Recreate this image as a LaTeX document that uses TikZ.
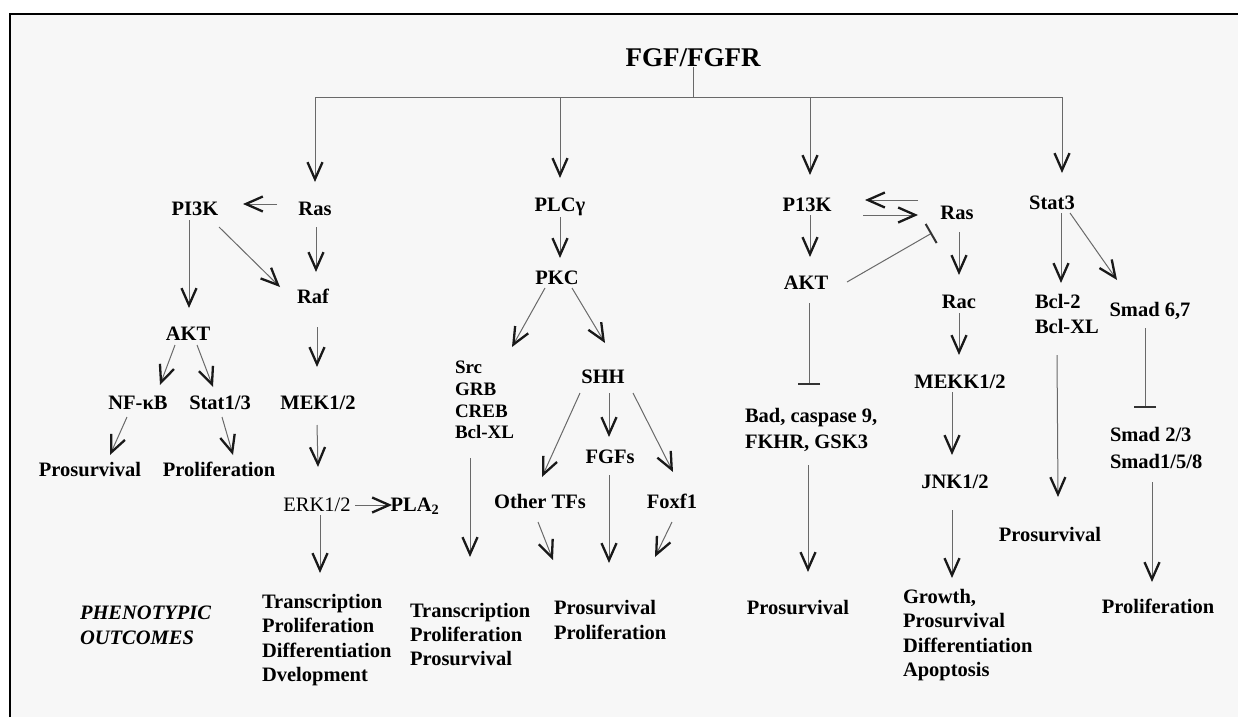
\documentclass[tikz,border=0pt]{standalone}
\usepackage{fontspec}
\setmainfont{Liberation Serif}
\usetikzlibrary{arrows.meta}

\definecolor{paper}{RGB}{247,247,247}
\definecolor{wire}{RGB}{105,105,105}

\begin{document}
\begin{tikzpicture}[x=1pt,y=-1pt]
        \tikzstyle{every node}=[font=\bfseries\fontsize{20.5}{24.5}\selectfont, inner sep=0pt, outer sep=0pt]
        \tikzstyle{lbl}=[text height=13.5pt, text depth=0pt]
        \tikzstyle{blk}=[anchor=west, align=left]
        \tikzstyle{ln}=[draw=wire, line width=1pt]
        \tikzstyle{arr}=[ln, -{Straight Barb[length=17pt,width=15pt,line width=2.3pt,color=black!90]}]
        \tikzstyle{inh}=[ln, -{Bar[width=22pt,line width=2pt,color=black!80]}]
        \useasboundingbox (0,0) rectangle (1238,717);
        \fill[paper] (10,14) rectangle (1238,717);
        \draw[line width=2.8pt] (10,717) -- (10,14) -- (1238,14);
        % receptor and the four branches
        \node[font=\bfseries\fontsize{27}{30}\selectfont] (title) at (693,58) {FGF/FGFR};
        \coordinate (b1) at (315,97);
        \coordinate (b2) at (560,97);
        \coordinate (b3) at (810,97);
        \coordinate (b4) at (1062,97);
        \draw[ln] (b1) -- (b4);
        \draw[ln] (title) -- (title |- b1);
        % Ras branch
        \node[lbl] (pik1) at (195,209) {PI3K};
        \node[lbl] (ras1) at (315,209) {Ras};
        \node[lbl] (raf) at (313,297) {Raf};
        \node[lbl] (akt1) at (188,334) {AKT};
        \node[lbl] (nfkb) at (138,403) {NF-κB};
        \node[lbl] (stat13) at (220,403) {Stat1/3};
        \node[lbl] (mek) at (318,403) {MEK1/2};
        \node[lbl] (prosurv1) at (90,470) {Prosurvival};
        \node[lbl] (prolif1) at (219,470) {Proliferation};
        \node[lbl, font=\fontsize{20.5}{24.5}\selectfont] (erk) at (317,505) {ERK1/2};
        \node[lbl] (pla) at (415,505) {PLA\textsubscript{2}};
        \node[blk] (out1) at (262,640) {Transcription\\Proliferation\\Differentiation\\Dvelopment};
        \node[blk, font=\bfseries\itshape\fontsize{20.5}{25}\selectfont] (pheno) at (80,625) {PHENOTYPIC\\OUTCOMES};
        \draw[arr] (b1) -- ([shift={(0,-27)}]ras1.center);
        \draw[arr] ([shift={(-38,-5)}]ras1.center) -- ([shift={(48,-5)}]pik1.center);
        \draw[arr] ([shift={(1,18)}]ras1.center) -- ([shift={(3,-25)}]raf.center);
        \draw[arr] ([shift={(-6,11)}]pik1.center) -- ([shift={(1,-26)}]akt1.center);
        \draw[arr] ([shift={(24,18)}]pik1.center) -- ([shift={(-33,-10)}]raf.center);
        \draw[arr] ([shift={(4,30)}]raf.center) -- ([shift={(-1,-36)}]mek.center);
        \draw[arr] ([shift={(-13,11)}]akt1.center) -- ([shift={(22,-18)}]nfkb.center);
        \draw[arr] ([shift={(9,11)}]akt1.center) -- ([shift={(-7,-16)}]stat13.center);
        \draw[arr] ([shift={(-11,14)}]nfkb.center) -- ([shift={(20,-15)}]prosurv1.center);
        \draw[arr] ([shift={(2,14)}]stat13.center) -- ([shift={(14,-15)}]prolif1.center);
        \draw[arr] ([shift={(-1,22)}]mek.center) -- ([shift={(1,-38)}]erk.center);
        \draw[arr] ([shift={(38,0)}]erk.center) -- ([shift={(-23,0)}]pla.center);
        \draw[arr] ([shift={(3,10)}]erk.center) -- ([shift={(58,-67)}]out1.west);
        % PLCgamma branch
        \node[lbl] (plcg) at (560,205) {PLCγ};
        \node[lbl] (pkc) at (557,278) {PKC};
        \node[blk, font=\bfseries\fontsize{19}{21.7}\selectfont] (src) at (455,400) {Src\\GRB\\CREB\\Bcl-XL};
        \node[lbl] (shh) at (603,377) {SHH};
        \node[lbl] (fgfs) at (610,457) {FGFs};
        \node[lbl] (othtf) at (540,502) {Other TFs};
        \node[lbl] (foxf) at (672,502) {Foxf1};
        \node[blk, font=\bfseries\fontsize{20.5}{24}\selectfont] (out2) at (410,635) {Transcription\\Proliferation\\Prosurvival};
        \node[blk, font=\bfseries\fontsize{20.5}{25}\selectfont] (out3) at (554,620) {Prosurvival\\Proliferation};
        \draw[arr] (b2) -- ([shift={(0,-27)}]plcg.center);
        \draw[arr] ([shift={(0,12)}]plcg.center) -- ([shift={(3,-20)}]pkc.center);
        \draw[arr] ([shift={(-12,10)}]pkc.center) -- ([shift={(57,-53)}]src.west);
        \draw[arr] ([shift={(15,10)}]pkc.center) -- ([shift={(2,-34)}]shh.center);
        \draw[arr] ([shift={(-23,16)}]shh.center) -- ([shift={(2,-25)}]othtf.center);
        \draw[arr] ([shift={(6,16)}]shh.center) -- ([shift={(-1,-20)}]fgfs.center);
        \draw[arr] ([shift={(30,16)}]shh.center) -- ([shift={(1,-30)}]foxf.center);
        \draw[arr] ([shift={(15,58)}]src.west) -- ([shift={(60,-78)}]out2.west);
        \draw[arr] ([shift={(-2,20)}]othtf.center) -- ([shift={(-1,-60)}]out3.west);
        \draw[arr] ([shift={(-1,18)}]fgfs.center) -- ([shift={(55,-57)}]out3.west);
        \draw[arr] ([shift={(0,20)}]foxf.center) -- ([shift={(101,-63)}]out3.west);
        % PI3K branch
        \node[lbl] (pik2) at (807,205) {P13K};
        \node[lbl] (ras2) at (957,213) {Ras};
        \node[lbl] (akt2) at (806,283) {AKT};
        \node[lbl] (rac) at (959,302) {Rac};
        \node[lbl] (mekk) at (960,382) {MEKK1/2};
        \node[blk, font=\bfseries\fontsize{20.5}{26}\selectfont] (bad) at (745,430) {Bad, caspase 9,\\FKHR, GSK3};
        \node[lbl] (prosurv3) at (798,608) {Prosurvival};
        \node[lbl] (jnk) at (955,482) {JNK1/2};
        \node[blk, font=\bfseries\fontsize{20.5}{24.3}\selectfont] (out4) at (903,635) {Growth,\\Prosurvival\\Differentiation\\Apoptosis};
        \draw[arr] (b3) -- ([shift={(3,-30)}]pik2.center);
        \draw[arr] ([shift={(-39,-13)}]ras2.center) -- ([shift={(58,-5)}]pik2.center);
        \draw[arr] ([shift={(56,10)}]pik2.center) -- ([shift={(-39,2)}]ras2.center);
        \draw[arr] ([shift={(3,10)}]pik2.center) -- ([shift={(4,-26)}]akt2.center);
        \draw[inh] ([shift={(41,-1)}]akt2.center) -- ([shift={(-25,20)}]ras2.center);
        \draw[arr] ([shift={(2,19)}]ras2.center) -- ([shift={(0,-27)}]rac.center);
        \draw[arr] ([shift={(0,11)}]rac.center) -- ([shift={(-1,-27)}]mekk.center);
        \draw[inh] ([shift={(3,20)}]akt2.center) -- ([shift={(64,-45)}]bad.west);
        \draw[arr] ([shift={(63,35)}]bad.west) -- ([shift={(10,-36)}]prosurv3.center);
        \draw[arr] ([shift={(-8,10)}]mekk.center) -- ([shift={(-3,-27)}]jnk.center);
        \draw[arr] ([shift={(-3,28)}]jnk.center) -- ([shift={(49,-57)}]out4.west);
        % Stat3 branch
        \node[lbl] (stat3) at (1052,203) {Stat3};
        \node[blk, font=\bfseries\fontsize{20.5}{25}\selectfont] (bcl) at (1035,314) {Bcl-2\\Bcl-XL};
        \node[lbl] (smad67) at (1150,310) {Smad 6,7};
        \node[blk, font=\bfseries\fontsize{20.5}{27}\selectfont] (smad23) at (1110,448) {Smad 2/3\\Smad1/5/8};
        \node[lbl] (prosurv4) at (1050,535) {Prosurvival};
        \node[lbl] (prolif4) at (1158,607) {Proliferation};
        \draw[arr] (b4) -- ([shift={(10,-30)}]stat3.center);
        \draw[arr] ([shift={(9,10)}]stat3.center) -- ([shift={(26,-31)}]bcl.west);
        \draw[arr] ([shift={(18,10)}]stat3.center) -- ([shift={(-33,-30)}]smad67.center);
        \draw[inh] ([shift={(-5,18)}]smad67.center) -- ([shift={(35,-40)}]smad23.west);
        \draw[arr] ([shift={(22,41)}]bcl.west) -- ([shift={(8,-38)}]prosurv4.center);
        \draw[arr] ([shift={(42,34)}]smad23.west) -- ([shift={(-6,-25)}]prolif4.center);
\end{tikzpicture}
\end{document}
